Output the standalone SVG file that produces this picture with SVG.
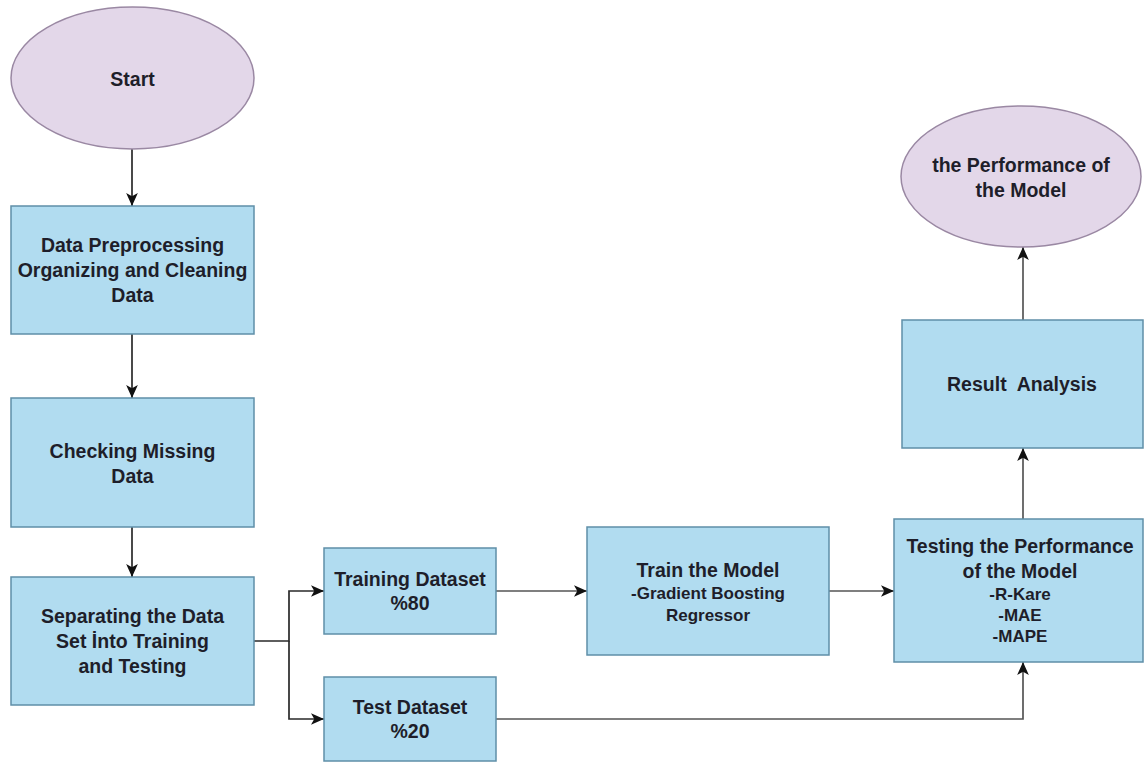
<svg xmlns="http://www.w3.org/2000/svg" width="1144" height="763" viewBox="0 0 1144 763">
<style>
.box{fill:#b1dcf0;stroke:#5f8fa8;stroke-width:1.5}
.ell{fill:#e3d7e9;stroke:#9a88a3;stroke-width:1.5}
text{font-family:"Liberation Sans",Arial,sans-serif;font-weight:bold;fill:#1e1e2a;text-anchor:middle}
.t{font-size:19.5px}
.s{font-size:17px}
.edge{fill:none;stroke:#2a2a2a;stroke-width:1.7}
.edge2{fill:none;stroke:#555;stroke-width:1.7}
</style>
<defs>
<marker id="arr" viewBox="0 0 10 10" refX="10" refY="5" markerWidth="13" markerHeight="13" markerUnits="userSpaceOnUse" orient="auto">
<path d="M0,0.5 L10,5 L0,9.5 L2.5,5 z" fill="#111"/>
</marker>
</defs>
<rect width="1144" height="763" fill="#fff"/>
<g id="connectors">
<path class="edge" d="M132,149 V206" marker-end="url(#arr)"/>
<path class="edge" d="M132,334 V398" marker-end="url(#arr)"/>
<path class="edge" d="M132,527 V577" marker-end="url(#arr)"/>
<path class="edge" d="M254,641 H289 V591 H324" marker-end="url(#arr)"/>
<path class="edge" d="M289,641 V719 H324" marker-end="url(#arr)"/>
<path class="edge2" d="M496,591 H587" marker-end="url(#arr)"/>
<path class="edge2" d="M829,591 H894" marker-end="url(#arr)"/>
<path class="edge2" d="M496,719 H1023 V662" marker-end="url(#arr)"/>
<path class="edge2" d="M1023,519 V448" marker-end="url(#arr)"/>
<path class="edge2" d="M1023,320 V247" marker-end="url(#arr)"/>
</g>
<g id="start">
<ellipse class="ell" cx="132.5" cy="78" rx="121.5" ry="71"/>
<text class="t" x="132.5" y="86">Start</text>
</g>
<g id="preprocessing">
<rect class="box" x="11" y="206" width="243" height="128"/>
<text class="t" x="132.5" y="252">Data Preprocessing</text>
<text class="t" x="132.5" y="277">Organizing and Cleaning</text>
<text class="t" x="132.5" y="302">Data</text>
</g>
<g id="missing">
<rect class="box" x="11" y="398" width="243" height="129"/>
<text class="t" x="132.5" y="458">Checking Missing</text>
<text class="t" x="132.5" y="483">Data</text>
</g>
<g id="separating">
<rect class="box" x="11" y="577" width="243" height="128"/>
<text class="t" x="132.5" y="623">Separating the Data</text>
<text class="t" x="132.5" y="648">Set İnto Training</text>
<text class="t" x="132.5" y="673">and Testing</text>
</g>
<g id="training">
<rect class="box" x="324" y="548" width="172" height="86"/>
<text class="t" x="410" y="586">Training Dataset</text>
<text class="t" x="410" y="610">%80</text>
</g>
<g id="test">
<rect class="box" x="324" y="677" width="172" height="84"/>
<text class="t" x="410" y="714">Test Dataset</text>
<text class="t" x="410" y="738">%20</text>
</g>
<g id="train-model">
<rect class="box" x="587" y="527" width="242" height="128"/>
<text class="t" x="708" y="577">Train the Model</text>
<text class="s" x="708" y="599">-Gradient Boosting</text>
<text class="s" x="708" y="621">Regressor</text>
</g>
<g id="testing-performance">
<rect class="box" x="894" y="519" width="249" height="143"/>
<text class="t" x="1020" y="553">Testing the Performance</text>
<text class="t" x="1020" y="578">of the Model</text>
<text class="s" x="1020" y="600">-R-Kare</text>
<text class="s" x="1020" y="621">-MAE</text>
<text class="s" x="1020" y="642">-MAPE</text>
</g>
<g id="result-analysis">
<rect class="box" x="902" y="320" width="241" height="128"/>
<text class="t" x="1022" y="391" xml:space="preserve">Result  Analysis</text>
</g>
<g id="performance">
<ellipse class="ell" cx="1021" cy="176.5" rx="120" ry="70.5"/>
<text class="t" x="1021" y="172">the Performance of</text>
<text class="t" x="1021" y="197">the Model</text>
</g>
</svg>
